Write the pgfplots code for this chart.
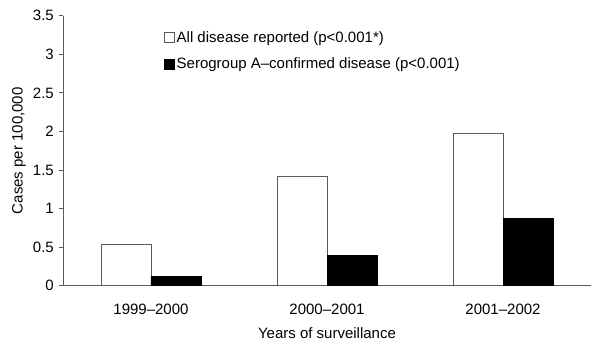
\documentclass[border=0pt]{standalone}
\usepackage{pgfplots}
\pgfplotsset{compat=1.18}
\usepackage{fontspec}
\setmainfont{Liberation Sans}
\definecolor{axgray}{HTML}{5A5A5A}
\begin{document}
\fontsize{15}{18}\selectfont
\begin{tikzpicture}
\useasboundingbox (-63pt,-66.3pt) rectangle (537pt,285.7pt);
\begin{axis}[
  at={(0pt,0pt)}, anchor=south west,
  scale only axis, width=528pt, height=270pt,
  ybar=0pt, bar width=50pt,
  xmin=-0.5, xmax=2.5, ymin=0, ymax=3.5,
  axis x line*=bottom, axis y line*=left,
  axis line style={axgray, line width=0.8pt},
  xtick={0,1,2},
  xticklabels={1999--2000,2000--2001,2001--2002},
  x tick style={draw=none},
  extra x ticks={-0.5,0.5,1.5,2.5},
  extra x tick labels={},
  extra x tick style={tick style={draw=axgray, line width=0.8pt}, major tick length=4pt},
  ytick={0,0.5,1,1.5,2,2.5,3,3.5},
  yticklabels={0,0.5,1,1.5,2,2.5,3,3.5},
  y tick style={draw=axgray, line width=0.8pt},
  tick align=outside, major tick length=4pt,
  xticklabel style={font=\fontsize{15}{18}\selectfont, yshift=-9pt},
  yticklabel style={font=\fontsize{15}{18}\selectfont},
  xlabel={Years of surveillance},
  ylabel={Cases per 100,000},
  label style={font=\fontsize{15}{18}\selectfont},
  xlabel style={yshift=5pt},
  ylabel style={yshift=-3pt},
  legend style={draw=none, fill=none, at={(0.185,0.958)}, anchor=north west,
    font=\fontsize{15}{18}\selectfont, row sep=9pt,
    legend cell align=left},
  legend image code/.code={\draw[#1] (0pt,-5pt) rectangle (10pt,5pt);},
]
\addplot[draw=axgray, fill=white, line width=0.8pt] coordinates {(0,0.54) (1,1.42) (2,1.98)};
\addplot[draw=black, fill=black, line width=0.8pt] coordinates {(0,0.12) (1,0.39) (2,0.87)};
\legend{All disease reported (p<0.001*), Serogroup A--confirmed disease (p<0.001)}
\end{axis}
\end{tikzpicture}
\end{document}
